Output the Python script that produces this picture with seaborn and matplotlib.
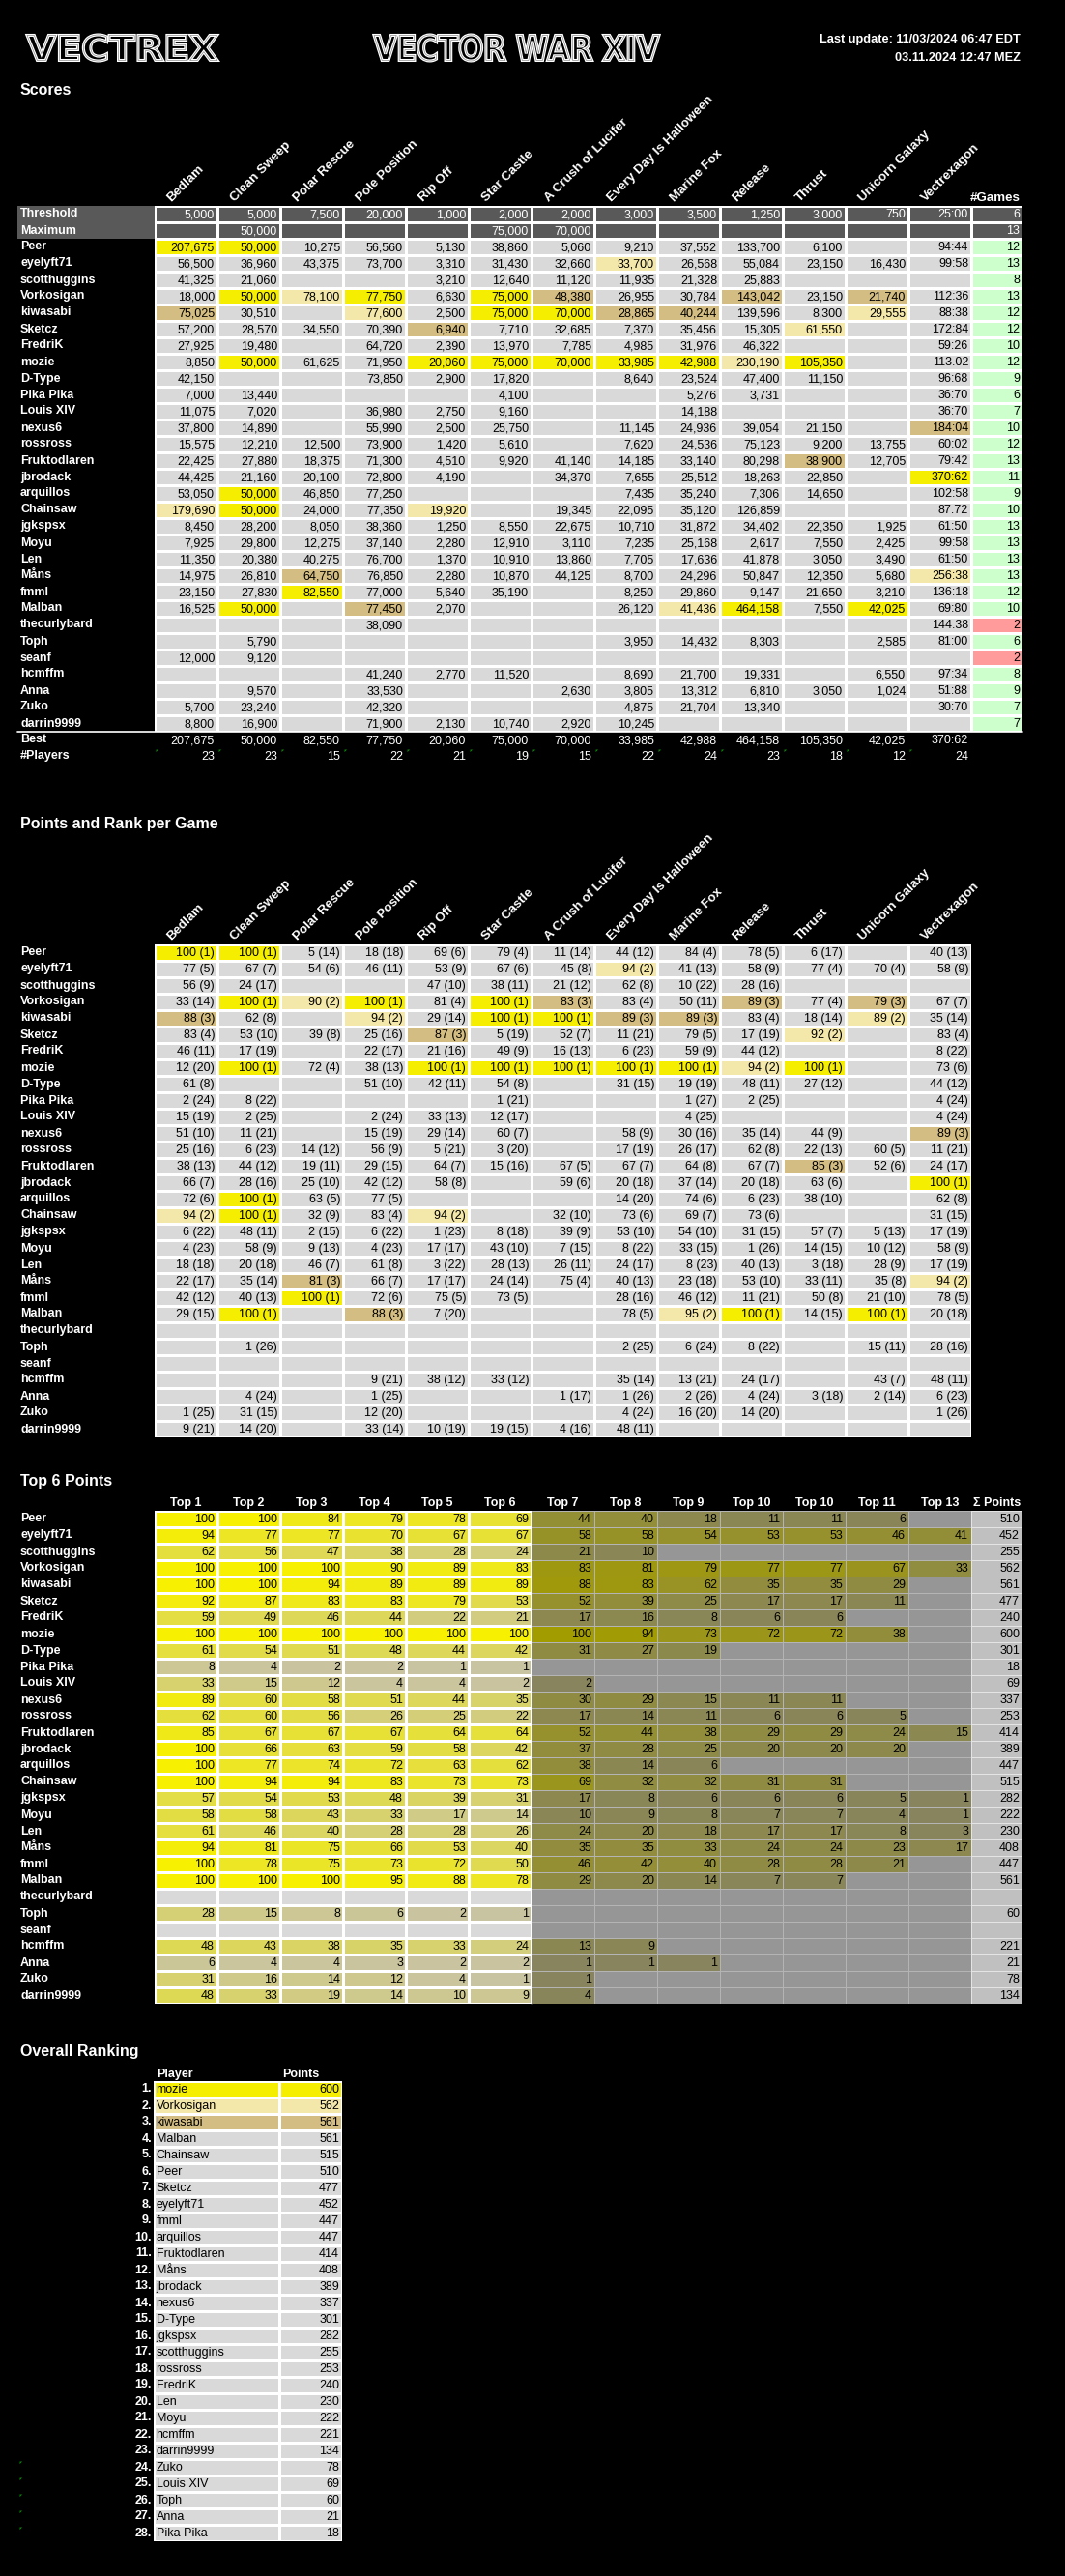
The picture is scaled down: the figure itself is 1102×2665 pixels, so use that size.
import numpy as np
import pandas as pd
import matplotlib
matplotlib.use('Agg')
import matplotlib.pyplot as plt
import seaborn as sns
from matplotlib.colors import ListedColormap, LinearSegmentedColormap
from matplotlib.patches import Rectangle, PathPatch
from matplotlib.textpath import TextPath
from matplotlib.font_manager import FontProperties
from matplotlib.transforms import Affine2D

# ---------------- data ----------------
games = ['Bedlam', 'Clean Sweep', 'Polar Rescue', 'Pole Position', 'Rip Off', 'Star Castle',
         'A Crush of Lucifer', 'Every Day Is Halloween', 'Marine Fox', 'Release', 'Thrust',
         'Unicorn Galaxy', 'Vectrexagon']
players = ['Peer', 'eyelyft71', 'scotthuggins', 'Vorkosigan', 'kiwasabi', 'Sketcz', 'FredriK', 'mozie',
           'D-Type', 'Pika Pika', 'Louis XIV', 'nexus6', 'rossross', 'Fruktodlaren', 'jbrodack',
           'arquillos', 'Chainsaw', 'jgkspsx', 'Moyu', 'Len', 'Måns', 'fmml', 'Malban', 'thecurlybard',
           'Toph', 'seanf', 'hcmffm', 'Anna', 'Zuko', 'darrin9999']

threshold = ['5,000', '5,000', '7,500', '20,000', '1,000', '2,000', '2,000', '3,000', '3,500', '1,250',
             '3,000', '750', '25:00']
maximum = ['', '50,000', '', '', '', '75,000', '70,000', '', '', '', '', '', '']
games_threshold = 6
games_maximum = 13

scores = [
    ['207,675', '50,000', '10,275', '56,560', '5,130', '38,860', '5,060', '9,210', '37,552', '133,700', '6,100', '', '94:44'],
    ['56,500', '36,960', '43,375', '73,700', '3,310', '31,430', '32,660', '33,700', '26,568', '55,084', '23,150', '16,430', '99:58'],
    ['41,325', '21,060', '', '', '3,210', '12,640', '11,120', '11,935', '21,328', '25,883', '', '', ''],
    ['18,000', '50,000', '78,100', '77,750', '6,630', '75,000', '48,380', '26,955', '30,784', '143,042', '23,150', '21,740', '112:36'],
    ['75,025', '30,510', '', '77,600', '2,500', '75,000', '70,000', '28,865', '40,244', '139,596', '8,300', '29,555', '88:38'],
    ['57,200', '28,570', '34,550', '70,390', '6,940', '7,710', '32,685', '7,370', '35,456', '15,305', '61,550', '', '172:84'],
    ['27,925', '19,480', '', '64,720', '2,390', '13,970', '7,785', '4,985', '31,976', '46,322', '', '', '59:26'],
    ['8,850', '50,000', '61,625', '71,950', '20,060', '75,000', '70,000', '33,985', '42,988', '230,190', '105,350', '', '113.02'],
    ['42,150', '', '', '73,850', '2,900', '17,820', '', '8,640', '23,524', '47,400', '11,150', '', '96:68'],
    ['7,000', '13,440', '', '', '', '4,100', '', '', '5,276', '3,731', '', '', '36:70'],
    ['11,075', '7,020', '', '36,980', '2,750', '9,160', '', '', '14,188', '', '', '', '36:70'],
    ['37,800', '14,890', '', '55,990', '2,500', '25,750', '', '11,145', '24,936', '39,054', '21,150', '', '184:04'],
    ['15,575', '12,210', '12,500', '73,900', '1,420', '5,610', '', '7,620', '24,536', '75,123', '9,200', '13,755', '60:02'],
    ['22,425', '27,880', '18,375', '71,300', '4,510', '9,920', '41,140', '14,185', '33,140', '80,298', '38,900', '12,705', '79:42'],
    ['44,425', '21,160', '20,100', '72,800', '4,190', '', '34,370', '7,655', '25,512', '18,263', '22,850', '', '370:62'],
    ['53,050', '50,000', '46,850', '77,250', '', '', '', '7,435', '35,240', '7,306', '14,650', '', '102:58'],
    ['179,690', '50,000', '24,000', '77,350', '19,920', '', '19,345', '22,095', '35,120', '126,859', '', '', '87:72'],
    ['8,450', '28,200', '8,050', '38,360', '1,250', '8,550', '22,675', '10,710', '31,872', '34,402', '22,350', '1,925', '61:50'],
    ['7,925', '29,800', '12,275', '37,140', '2,280', '12,910', '3,110', '7,235', '25,168', '2,617', '7,550', '2,425', '99:58'],
    ['11,350', '20,380', '40,275', '76,700', '1,370', '10,910', '13,860', '7,705', '17,636', '41,878', '3,050', '3,490', '61:50'],
    ['14,975', '26,810', '64,750', '76,850', '2,280', '10,870', '44,125', '8,700', '24,296', '50,847', '12,350', '5,680', '256:38'],
    ['23,150', '27,830', '82,550', '77,000', '5,640', '35,190', '', '8,250', '29,860', '9,147', '21,650', '3,210', '136:18'],
    ['16,525', '50,000', '', '77,450', '2,070', '', '', '26,120', '41,436', '464,158', '7,550', '42,025', '69:80'],
    ['', '', '', '38,090', '', '', '', '', '', '', '', '', '144:38'],
    ['', '5,790', '', '', '', '', '', '3,950', '14,432', '8,303', '', '2,585', '81:00'],
    ['12,000', '9,120', '', '', '', '', '', '', '', '', '', '', ''],
    ['', '', '', '41,240', '2,770', '11,520', '', '8,690', '21,700', '19,331', '', '6,550', '97:34'],
    ['', '9,570', '', '33,530', '', '', '2,630', '3,805', '13,312', '6,810', '3,050', '1,024', '51:88'],
    ['5,700', '23,240', '', '42,320', '', '', '', '4,875', '21,704', '13,340', '', '', '30:70'],
    ['8,800', '16,900', '', '71,900', '2,130', '10,740', '2,920', '10,245', '', '', '', '', ''],
]
games_played = [12, 13, 8, 13, 12, 12, 10, 12, 9, 6, 7, 10, 12, 13, 11, 9, 10, 13, 13, 13, 13, 12, 10, 2, 6, 2,
                8, 9, 7, 7]
best = ['207,675', '50,000', '82,550', '77,750', '20,060', '75,000', '70,000', '33,985', '42,988', '464,158',
        '105,350', '42,025', '370:62']
n_players = [23, 23, 15, 22, 21, 19, 15, 22, 24, 23, 18, 12, 24]

points = [
    ['100 (1)', '100 (1)', '5 (14)', '18 (18)', '69 (6)', '79 (4)', '11 (14)', '44 (12)', '84 (4)', '78 (5)', '6 (17)', '', '40 (13)'],
    ['77 (5)', '67 (7)', '54 (6)', '46 (11)', '53 (9)', '67 (6)', '45 (8)', '94 (2)', '41 (13)', '58 (9)', '77 (4)', '70 (4)', '58 (9)'],
    ['56 (9)', '24 (17)', '', '', '47 (10)', '38 (11)', '21 (12)', '62 (8)', '10 (22)', '28 (16)', '', '', ''],
    ['33 (14)', '100 (1)', '90 (2)', '100 (1)', '81 (4)', '100 (1)', '83 (3)', '83 (4)', '50 (11)', '89 (3)', '77 (4)', '79 (3)', '67 (7)'],
    ['88 (3)', '62 (8)', '', '94 (2)', '29 (14)', '100 (1)', '100 (1)', '89 (3)', '89 (3)', '83 (4)', '18 (14)', '89 (2)', '35 (14)'],
    ['83 (4)', '53 (10)', '39 (8)', '25 (16)', '87 (3)', '5 (19)', '52 (7)', '11 (21)', '79 (5)', '17 (19)', '92 (2)', '', '83 (4)'],
    ['46 (11)', '17 (19)', '', '22 (17)', '21 (16)', '49 (9)', '16 (13)', '6 (23)', '59 (9)', '44 (12)', '', '', '8 (22)'],
    ['12 (20)', '100 (1)', '72 (4)', '38 (13)', '100 (1)', '100 (1)', '100 (1)', '100 (1)', '100 (1)', '94 (2)', '100 (1)', '', '73 (6)'],
    ['61 (8)', '', '', '51 (10)', '42 (11)', '54 (8)', '', '31 (15)', '19 (19)', '48 (11)', '27 (12)', '', '44 (12)'],
    ['2 (24)', '8 (22)', '', '', '', '1 (21)', '', '', '1 (27)', '2 (25)', '', '', '4 (24)'],
    ['15 (19)', '2 (25)', '', '2 (24)', '33 (13)', '12 (17)', '', '', '4 (25)', '', '', '', '4 (24)'],
    ['51 (10)', '11 (21)', '', '15 (19)', '29 (14)', '60 (7)', '', '58 (9)', '30 (16)', '35 (14)', '44 (9)', '', '89 (3)'],
    ['25 (16)', '6 (23)', '14 (12)', '56 (9)', '5 (21)', '3 (20)', '', '17 (19)', '26 (17)', '62 (8)', '22 (13)', '60 (5)', '11 (21)'],
    ['38 (13)', '44 (12)', '19 (11)', '29 (15)', '64 (7)', '15 (16)', '67 (5)', '67 (7)', '64 (8)', '67 (7)', '85 (3)', '52 (6)', '24 (17)'],
    ['66 (7)', '28 (16)', '25 (10)', '42 (12)', '58 (8)', '', '59 (6)', '20 (18)', '37 (14)', '20 (18)', '63 (6)', '', '100 (1)'],
    ['72 (6)', '100 (1)', '63 (5)', '77 (5)', '', '', '', '14 (20)', '74 (6)', '6 (23)', '38 (10)', '', '62 (8)'],
    ['94 (2)', '100 (1)', '32 (9)', '83 (4)', '94 (2)', '', '32 (10)', '73 (6)', '69 (7)', '73 (6)', '', '', '31 (15)'],
    ['6 (22)', '48 (11)', '2 (15)', '6 (22)', '1 (23)', '8 (18)', '39 (9)', '53 (10)', '54 (10)', '31 (15)', '57 (7)', '5 (13)', '17 (19)'],
    ['4 (23)', '58 (9)', '9 (13)', '4 (23)', '17 (17)', '43 (10)', '7 (15)', '8 (22)', '33 (15)', '1 (26)', '14 (15)', '10 (12)', '58 (9)'],
    ['18 (18)', '20 (18)', '46 (7)', '61 (8)', '3 (22)', '28 (13)', '26 (11)', '24 (17)', '8 (23)', '40 (13)', '3 (18)', '28 (9)', '17 (19)'],
    ['22 (17)', '35 (14)', '81 (3)', '66 (7)', '17 (17)', '24 (14)', '75 (4)', '40 (13)', '23 (18)', '53 (10)', '33 (11)', '35 (8)', '94 (2)'],
    ['42 (12)', '40 (13)', '100 (1)', '72 (6)', '75 (5)', '73 (5)', '', '28 (16)', '46 (12)', '11 (21)', '50 (8)', '21 (10)', '78 (5)'],
    ['29 (15)', '100 (1)', '', '88 (3)', '7 (20)', '', '', '78 (5)', '95 (2)', '100 (1)', '14 (15)', '100 (1)', '20 (18)'],
    ['', '', '', '', '', '', '', '', '', '', '', '', ''],
    ['', '1 (26)', '', '', '', '', '', '2 (25)', '6 (24)', '8 (22)', '', '15 (11)', '28 (16)'],
    ['', '', '', '', '', '', '', '', '', '', '', '', ''],
    ['', '', '', '9 (21)', '38 (12)', '33 (12)', '', '35 (14)', '13 (21)', '24 (17)', '', '43 (7)', '48 (11)'],
    ['', '4 (24)', '', '1 (25)', '', '', '1 (17)', '1 (26)', '2 (26)', '4 (24)', '3 (18)', '2 (14)', '6 (23)'],
    ['1 (25)', '31 (15)', '', '12 (20)', '', '', '', '4 (24)', '16 (20)', '14 (20)', '', '', '1 (26)'],
    ['9 (21)', '14 (20)', '', '33 (14)', '10 (19)', '19 (15)', '4 (16)', '48 (11)', '', '', '', '', ''],
]

top_labels = ['Top 1', 'Top 2', 'Top 3', 'Top 4', 'Top 5', 'Top 6', 'Top 7', 'Top 8', 'Top 9', 'Top 10',
              'Top 10', 'Top 11', 'Top 13']
N = None
top_values = [
    [100, 100, 84, 79, 78, 69, 44, 40, 18, 11, 11, 6, N],
    [94, 77, 77, 70, 67, 67, 58, 58, 54, 53, 53, 46, 41],
    [62, 56, 47, 38, 28, 24, 21, 10, N, N, N, N, N],
    [100, 100, 100, 90, 89, 83, 83, 81, 79, 77, 77, 67, 33],
    [100, 100, 94, 89, 89, 89, 88, 83, 62, 35, 35, 29, N],
    [92, 87, 83, 83, 79, 53, 52, 39, 25, 17, 17, 11, N],
    [59, 49, 46, 44, 22, 21, 17, 16, 8, 6, 6, N, N],
    [100, 100, 100, 100, 100, 100, 100, 94, 73, 72, 72, 38, N],
    [61, 54, 51, 48, 44, 42, 31, 27, 19, N, N, N, N],
    [8, 4, 2, 2, 1, 1, N, N, N, N, N, N, N],
    [33, 15, 12, 4, 4, 2, 2, N, N, N, N, N, N],
    [89, 60, 58, 51, 44, 35, 30, 29, 15, 11, 11, N, N],
    [62, 60, 56, 26, 25, 22, 17, 14, 11, 6, 6, 5, N],
    [85, 67, 67, 67, 64, 64, 52, 44, 38, 29, 29, 24, 15],
    [100, 66, 63, 59, 58, 42, 37, 28, 25, 20, 20, 20, N],
    [100, 77, 74, 72, 63, 62, 38, 14, 6, N, N, N, N],
    [100, 94, 94, 83, 73, 73, 69, 32, 32, 31, 31, N, N],
    [57, 54, 53, 48, 39, 31, 17, 8, 6, 6, 6, 5, 1],
    [58, 58, 43, 33, 17, 14, 10, 9, 8, 7, 7, 4, 1],
    [61, 46, 40, 28, 28, 26, 24, 20, 18, 17, 17, 8, 3],
    [94, 81, 75, 66, 53, 40, 35, 35, 33, 24, 24, 23, 17],
    [100, 78, 75, 73, 72, 50, 46, 42, 40, 28, 28, 21, N],
    [100, 100, 100, 95, 88, 78, 29, 20, 14, 7, 7, N, N],
    [N, N, N, N, N, N, N, N, N, N, N, N, N],
    [28, 15, 8, 6, 2, 1, N, N, N, N, N, N, N],
    [N, N, N, N, N, N, N, N, N, N, N, N, N],
    [48, 43, 38, 35, 33, 24, 13, 9, N, N, N, N, N],
    [6, 4, 4, 3, 2, 2, 1, 1, 1, N, N, N, N],
    [31, 16, 14, 12, 4, 1, 1, N, N, N, N, N, N],
    [48, 33, 19, 14, 10, 9, 4, N, N, N, N, N, N],
]
top_sum = [510, 452, 255, 562, 561, 477, 240, 600, 301, 18, 69, 337, 253, 414, 389, 447, 515, 282, 222, 230,
           408, 447, 561, N, 60, N, 221, 21, 78, 134]

rank_players = ['mozie', 'Vorkosigan', 'kiwasabi', 'Malban', 'Chainsaw', 'Peer', 'Sketcz', 'eyelyft71', 'fmml',
                'arquillos', 'Fruktodlaren', 'Måns', 'jbrodack', 'nexus6', 'D-Type', 'jgkspsx', 'scotthuggins',
                'rossross', 'FredriK', 'Len', 'Moyu', 'hcmffm', 'darrin9999', 'Zuko', 'Louis XIV', 'Toph',
                'Anna', 'Pika Pika']
rank_points = [600, 562, 561, 561, 515, 510, 477, 452, 447, 447, 414, 408, 389, 337, 301, 282, 255, 253, 240,
               230, 222, 221, 134, 78, 69, 60, 21, 18]

# ---------------- layout (pixels) ----------------
W, H = 1102, 2665
ROW_H = 17
X_NAME = 21
X_GRID = 160
COL_W = 65
X_GRID_END = X_GRID + COL_W * 13
X_RIGHT = 1058
SCORES_TOP = 213
POINTS_TOP = 977
TOP6_TOP = 1563
RANK_TOP = 2153

sns.set_theme(style='white')
plt.rcParams['font.family'] = ['Liberation Sans', 'DejaVu Sans']

YELLOW, PALE, TAN, LGRAY = '#f5ee00', '#f3e7aa', '#d4bd82', '#d9d9d9'
cell_cmap = ListedColormap(['#000000', '#595959', LGRAY, YELLOW, PALE, TAN])


def rank_code(s):
    if s == '':
        return 2
    r = int(s.split('(')[1].rstrip(')'))
    return {1: 3, 2: 4, 3: 5}.get(r, 2)


def table_axes(x0, x1, y0, n_rows):
    y1 = y0 + n_rows * ROW_H
    ax = fig.add_axes([x0 / W, 1 - y1 / H, (x1 - x0) / W, (y1 - y0) / H])
    return ax


def write_cells(ax, cells, col_px, colors, row0=0, size=9, weight='normal'):
    pad = 3 / col_px
    for i, row in enumerate(cells):
        for j, s in enumerate(row):
            if s != '' and s is not None:
                ax.text(j + 1 - pad, row0 + i + 0.55, str(s), ha='right', va='center', fontsize=size,
                        color=colors[i], weight=weight, clip_on=False)


def outline_title(s, x0, x1, y0, y1):
    tp = TextPath((0, 0), s, size=40, prop=FontProperties(family='DejaVu Sans', weight='bold'))
    ext = tp.get_extents()
    tr = Affine2D().translate(-ext.x0, -ext.y0).scale((x1 - x0) / ext.width, -(y1 - y0) / ext.height)
    tr = tr.translate(x0, y1)
    bg.add_patch(PathPatch(tr.transform_path(tp), facecolor='black', edgecolor='white', lw=2.2))
    bg.add_patch(PathPatch(tr.transform_path(tp), facecolor='none', edgecolor='#8a8a8a', lw=0.5))


def green_mark(x, y):
    bg.scatter([x], [y], marker=[(0, 0), (1, 0), (0, -1), (0, 0)], s=14, color='#0a8a0a', linewidths=0,
               zorder=5)


fig = plt.figure(figsize=(W / 100, H / 100), dpi=100, facecolor='black')
bg = fig.add_axes([0, 0, 1, 1])
bg.set_xlim(0, W)
bg.set_ylim(H, 0)
bg.axis('off')

# ---------------- header ----------------
outline_title('VECTREX', 28, 225, 36, 63)
outline_title('VECTOR WAR XIV', 387, 682, 36, 63)
bg.text(1056, 41, 'Last update: 11/03/2024 06:47 EDT', ha='right', va='center', color='white',
        fontsize=9.2, weight='bold')
bg.text(1056, 60, '03.11.2024 12:47 MEZ', ha='right', va='center', color='white', fontsize=9.2,
        weight='bold')

hdr = dict(color='white', weight='bold', fontsize=9.6, rotation=45, rotation_mode='anchor',
           ha='left', va='baseline', clip_on=False)
name_kw = dict(color='white', weight='bold', fontsize=9, va='center', ha='left')

# ---------------- scores ----------------
bg.text(X_NAME, 93, 'Scores', color='white', weight='bold', fontsize=11.5, va='center')
score_rows = [threshold, maximum] + scores
score_codes = np.array([[1] * 13, [1] * 13] + [[rank_code(p) for p in prow] for prow in points])
ax_s = table_axes(X_GRID, X_GRID_END, SCORES_TOP, len(score_rows))
sns.heatmap(score_codes, cmap=cell_cmap, vmin=-0.5, vmax=5.5, cbar=False, linewidths=0.75,
            linecolor='white', xticklabels=False, yticklabels=False, ax=ax_s)
write_cells(ax_s, score_rows, COL_W, ['white', 'white'] + ['black'] * len(scores))
write_cells(ax_s, [best, [str(n) for n in n_players]], COL_W, ['white', 'white'], row0=len(score_rows))
for j, g in enumerate(games):
    ax_s.text(j + 0.27, -0.25, g, **hdr)

games_rows = [[str(games_threshold)], [str(games_maximum)]] + [[str(g)] for g in games_played]
games_codes = np.array([[0], [0]] + [[1 if g >= games_threshold else 2] for g in games_played])
ax_g = table_axes(X_GRID_END, X_RIGHT, SCORES_TOP, len(games_rows))
sns.heatmap(games_codes, cmap=ListedColormap(['#595959', '#ccffcc', '#ff9b9b']), vmin=-0.5, vmax=2.5,
            cbar=False, linewidths=0.75, linecolor='white', xticklabels=False, yticklabels=False, ax=ax_g)
write_cells(ax_g, games_rows, X_RIGHT - X_GRID_END, ['white', 'white'] + ['black'] * len(scores))
bg.text(X_RIGHT - 2, SCORES_TOP - 8, '#Games', color='white', weight='bold', fontsize=9.6, ha='right',
        va='center')

bg.add_patch(Rectangle((18, SCORES_TOP), X_GRID - 18, 2 * ROW_H, facecolor='#595959', edgecolor='none'))
labels = ['Threshold', 'Maximum'] + players + ['Best', '#Players']
for i, p in enumerate(labels):
    bg.text(X_NAME, SCORES_TOP + (i + 0.5) * ROW_H, p, **name_kw)
y_end = SCORES_TOP + len(score_rows) * ROW_H
bg.plot([18, X_RIGHT], [y_end, y_end], color='white', lw=1.2)
for j in range(13):
    green_mark(X_GRID + COL_W * j + 1, y_end + ROW_H + 1)
green_mark(X_GRID + COL_W * 12 + 1, SCORES_TOP + (2 + players.index('mozie')) * ROW_H + 1)

# ---------------- points and rank ----------------
bg.text(X_NAME, 853, 'Points and Rank per Game', color='white', weight='bold', fontsize=11.5, va='center')
point_codes = np.array([[rank_code(p) for p in prow] for prow in points])
ax_p = table_axes(X_GRID, X_GRID_END, POINTS_TOP, len(points))
sns.heatmap(point_codes, cmap=cell_cmap, vmin=-0.5, vmax=5.5, cbar=False, linewidths=0.75,
            linecolor='white', xticklabels=False, yticklabels=False, ax=ax_p)
write_cells(ax_p, points, COL_W, ['black'] * len(points))
for j, g in enumerate(games):
    ax_p.text(j + 0.27, -0.25, g, **hdr)
for i, p in enumerate(players):
    bg.text(X_NAME, POINTS_TOP + (i + 0.5) * ROW_H, p, **name_kw)

# ---------------- top 6 points ----------------
bg.text(X_NAME, 1532, 'Top 6 Points', color='white', weight='bold', fontsize=11.5, va='center')
top_df = pd.DataFrame(top_values, index=players, columns=range(13)).astype(float)
left = top_df.iloc[:, :6].fillna(-1).values
right = top_df.iloc[:, 6:].fillna(-1).values

cm_left = LinearSegmentedColormap.from_list('top6', ['#c8c3a2', '#f7f000'])
cm_left.set_under(LGRAY)
cm_right = LinearSegmentedColormap.from_list('rest', ['#87845f', '#a39c00'])
cm_right.set_under('#969696')

ax_tl = table_axes(X_GRID, X_GRID + COL_W * 6, TOP6_TOP, len(players))
sns.heatmap(left, cmap=cm_left, vmin=0, vmax=100, cbar=False, linewidths=0.75, linecolor='white',
            xticklabels=False, yticklabels=False, ax=ax_tl)
ax_tr = table_axes(X_GRID + COL_W * 6, X_GRID_END, TOP6_TOP, len(players))
sns.heatmap(right, cmap=cm_right, vmin=0, vmax=100, cbar=False, linewidths=0.6, linecolor='#b4b4b4',
            xticklabels=False, yticklabels=False, ax=ax_tr)
ax_ts = table_axes(X_GRID_END, X_RIGHT, TOP6_TOP, len(players))
sns.heatmap(np.zeros((len(players), 1)), cmap=ListedColormap(['#c0c0c0']), cbar=False, linewidths=0.6,
            linecolor='#e4e4e4', xticklabels=False, yticklabels=False, ax=ax_ts)

fmt = lambda v: '' if v is None else str(v)
write_cells(ax_tl, [[fmt(v) for v in r[:6]] for r in top_values], COL_W, ['black'] * len(players))
write_cells(ax_tr, [[fmt(v) for v in r[6:]] for r in top_values], COL_W, ['black'] * len(players))
write_cells(ax_ts, [[fmt(v)] for v in top_sum], X_RIGHT - X_GRID_END, ['black'] * len(players))
bg.plot([X_GRID + COL_W * 6] * 2, [TOP6_TOP, TOP6_TOP + len(players) * ROW_H], color='white', lw=1)
for j, lab in enumerate(top_labels):
    bg.text(X_GRID + COL_W * (j + 0.5), TOP6_TOP - 8, lab, color='white', weight='bold', fontsize=9,
            ha='center', va='center')
bg.text((X_GRID_END + X_RIGHT) / 2, TOP6_TOP - 8, 'Σ Points', color='white', weight='bold', fontsize=9,
        ha='center', va='center')
for i, p in enumerate(players):
    bg.text(X_NAME, TOP6_TOP + (i + 0.5) * ROW_H, p, **name_kw)

# ---------------- overall ranking ----------------
bg.text(X_NAME, 2122, 'Overall Ranking', color='white', weight='bold', fontsize=11.5, va='center')
rank_codes = np.array([[3], [4], [5]] + [[2]] * (len(rank_players) - 3))
ax_rp = table_axes(159, 289, RANK_TOP, len(rank_players))
sns.heatmap(rank_codes, cmap=cell_cmap, vmin=-0.5, vmax=5.5, cbar=False, linewidths=0.75, linecolor='white',
            xticklabels=False, yticklabels=False, ax=ax_rp)
ax_rv = table_axes(289, 354, RANK_TOP, len(rank_players))
sns.heatmap(rank_codes, cmap=cell_cmap, vmin=-0.5, vmax=5.5, cbar=False, linewidths=0.75, linecolor='white',
            xticklabels=False, yticklabels=False, ax=ax_rv)
for i, (p, v) in enumerate(zip(rank_players, rank_points)):
    ax_rp.text(0.02, i + 0.55, p, ha='left', va='center', fontsize=9, color='black')
    bg.text(157, RANK_TOP + (i + 0.5) * ROW_H, f'{i + 1}.', color='white', weight='bold', fontsize=9,
            ha='right', va='center')
write_cells(ax_rv, [[str(v)] for v in rank_points], 65, ['black'] * len(rank_points))
bg.text(162, RANK_TOP - 7, 'Player', color='white', weight='bold', fontsize=9, va='center')
bg.text(292, RANK_TOP - 7, 'Points', color='white', weight='bold', fontsize=9, va='center')
for k in range(23, 28):
    green_mark(20, RANK_TOP + k * ROW_H + 2)

fig.savefig('out.png', dpi=100, facecolor='black')
